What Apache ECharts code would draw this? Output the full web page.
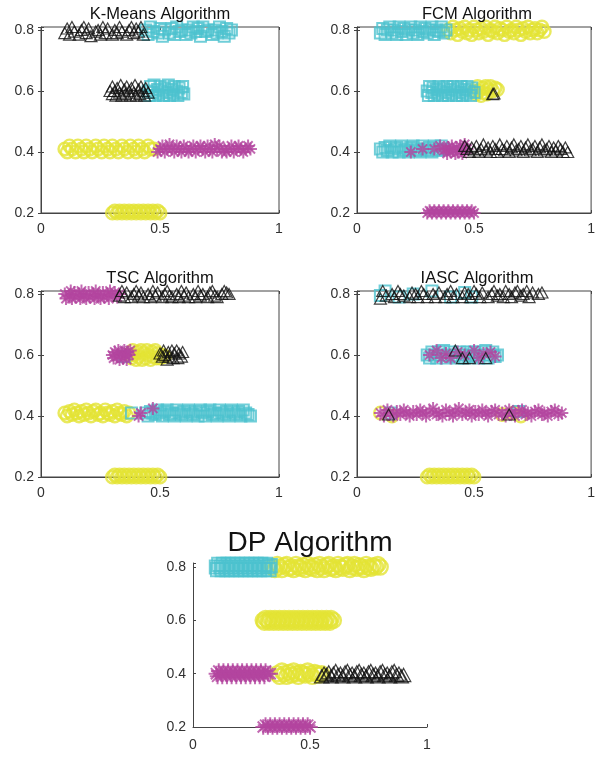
<!DOCTYPE html>
<html><head><meta charset="utf-8">
<script src="https://cdn.jsdelivr.net/npm/echarts@6/dist/echarts.min.js"></script>
<style>html,body{margin:0;padding:0;background:#fff}#c{width:598px;height:758px}</style>
</head><body><div id="c"></div>
<script>
const titles = ['K-Means Algorithm','FCM Algorithm','TSC Algorithm','IASC Algorithm','DP Algorithm'];
const xTickLabels = [0, 0.5, 1];
const yTickLabels = [0.2, 0.4, 0.6, 0.8];

// ---------- K-Means ----------
const kmYellow = [
[0.10,0.41],[0.11,0.40],[0.12,0.42],[0.13,0.41],[0.145,0.40],[0.155,0.42],[0.17,0.41],[0.18,0.40],[0.19,0.42],[0.205,0.41],[0.215,0.40],[0.23,0.42],[0.24,0.41],[0.255,0.40],[0.265,0.42],[0.28,0.41],[0.29,0.40],[0.30,0.42],[0.315,0.41],[0.325,0.40],[0.34,0.42],[0.35,0.41],[0.365,0.40],[0.375,0.42],[0.39,0.41],[0.40,0.40],[0.41,0.42],[0.425,0.41],[0.435,0.40],[0.45,0.42],[0.46,0.41],[0.475,0.41],
[0.30,0.20],[0.305,0.193],[0.31,0.207],[0.32,0.20],[0.325,0.193],[0.33,0.207],[0.34,0.20],[0.345,0.193],[0.35,0.207],[0.36,0.20],[0.365,0.193],[0.37,0.207],[0.38,0.20],[0.385,0.193],[0.39,0.207],[0.40,0.20],[0.405,0.193],[0.41,0.207],[0.42,0.20],[0.425,0.193],[0.43,0.207],[0.44,0.20],[0.445,0.193],[0.45,0.207],[0.46,0.20],[0.465,0.193],[0.47,0.207],[0.48,0.20],[0.485,0.193],[0.49,0.207],[0.50,0.20]];
const kmCyan = [
[0.44,0.80],[0.45,0.785],[0.46,0.81],[0.47,0.795],[0.48,0.815],[0.49,0.79],[0.50,0.805],[0.51,0.78],[0.52,0.80],[0.53,0.815],[0.54,0.79],[0.55,0.805],[0.56,0.785],[0.57,0.81],[0.58,0.795],[0.59,0.80],[0.60,0.815],[0.61,0.785],[0.62,0.80],[0.63,0.79],[0.64,0.81],[0.65,0.795],[0.66,0.805],[0.67,0.78],[0.68,0.81],[0.69,0.795],[0.70,0.80],[0.71,0.815],[0.72,0.785],[0.73,0.80],[0.74,0.79],[0.75,0.81],[0.76,0.795],[0.77,0.78],[0.78,0.805],[0.79,0.79],[0.80,0.80],
[0.45,0.60],[0.455,0.585],[0.46,0.615],[0.47,0.595],[0.475,0.62],[0.48,0.585],[0.49,0.605],[0.495,0.59],[0.50,0.615],[0.51,0.60],[0.515,0.585],[0.52,0.61],[0.53,0.595],[0.535,0.62],[0.54,0.585],[0.55,0.605],[0.555,0.59],[0.56,0.615],[0.57,0.60],[0.575,0.585],[0.58,0.61],[0.59,0.595],[0.595,0.615],[0.60,0.59]];
const kmMagenta = [
[0.49,0.40],[0.50,0.41],[0.51,0.42],[0.52,0.40],[0.53,0.41],[0.54,0.425],[0.55,0.41],[0.56,0.40],[0.57,0.42],[0.58,0.41],[0.59,0.40],[0.60,0.42],[0.61,0.41],[0.62,0.40],[0.63,0.41],[0.64,0.42],[0.65,0.40],[0.66,0.41],[0.67,0.42],[0.68,0.41],[0.69,0.40],[0.70,0.42],[0.71,0.41],[0.72,0.40],[0.73,0.425],[0.74,0.41],[0.75,0.42],[0.76,0.40],[0.77,0.41],[0.78,0.40],[0.79,0.41],[0.80,0.42],[0.81,0.40],[0.82,0.41],[0.83,0.42],[0.84,0.41],[0.85,0.40],[0.86,0.41],[0.87,0.42],[0.88,0.41]];
const kmBlack = [
[0.10,0.79],[0.11,0.805],[0.12,0.785],[0.13,0.81],[0.14,0.795],[0.15,0.815],[0.16,0.785],[0.17,0.80],[0.18,0.81],[0.19,0.79],[0.20,0.805],[0.21,0.78],[0.22,0.815],[0.23,0.795],[0.24,0.80],[0.25,0.785],[0.26,0.81],[0.27,0.79],[0.28,0.805],[0.29,0.815],[0.30,0.785],[0.31,0.80],[0.32,0.79],[0.33,0.81],[0.34,0.795],[0.35,0.815],[0.36,0.785],[0.37,0.80],[0.38,0.81],[0.39,0.79],[0.40,0.805],[0.41,0.795],[0.42,0.81],[0.43,0.785],
[0.29,0.60],[0.30,0.59],[0.30,0.615],[0.31,0.60],[0.315,0.585],[0.32,0.61],[0.33,0.595],[0.335,0.62],[0.34,0.585],[0.35,0.605],[0.355,0.59],[0.36,0.615],[0.37,0.60],[0.375,0.585],[0.38,0.61],[0.39,0.595],[0.395,0.62],[0.40,0.585],[0.41,0.605],[0.415,0.59],[0.42,0.615],[0.43,0.60],[0.435,0.585],[0.44,0.61],[0.45,0.595]];

// ---------- FCM ----------
const fcmYellow = [
[0.39,0.80],[0.40,0.79],[0.41,0.81],[0.42,0.80],[0.43,0.785],[0.44,0.805],[0.45,0.795],[0.46,0.81],[0.47,0.79],[0.48,0.80],[0.49,0.785],[0.50,0.81],[0.51,0.80],[0.52,0.79],[0.53,0.805],[0.54,0.795],[0.55,0.81],[0.56,0.785],[0.57,0.80],[0.58,0.795],[0.59,0.81],[0.60,0.79],[0.61,0.805],[0.62,0.80],[0.63,0.785],[0.64,0.81],[0.65,0.795],[0.66,0.80],[0.67,0.79],[0.68,0.81],[0.69,0.80],[0.70,0.785],[0.71,0.805],[0.72,0.795],[0.73,0.81],[0.74,0.79],[0.75,0.80],[0.76,0.805],[0.77,0.79],[0.78,0.80],[0.79,0.81],[0.80,0.795],
[0.50,0.60],[0.51,0.59],[0.515,0.615],[0.52,0.60],[0.53,0.585],[0.535,0.61],[0.54,0.595],[0.55,0.615],[0.555,0.59],[0.56,0.605],[0.57,0.615],[0.58,0.60],[0.59,0.61],[0.60,0.605]];
const fcmCyan = [
[0.10,0.79],[0.11,0.805],[0.12,0.785],[0.13,0.80],[0.14,0.81],[0.15,0.79],[0.16,0.80],[0.17,0.785],[0.18,0.81],[0.19,0.795],[0.20,0.805],[0.21,0.785],[0.22,0.80],[0.23,0.81],[0.24,0.79],[0.25,0.80],[0.26,0.785],[0.27,0.81],[0.28,0.795],[0.29,0.805],[0.30,0.79],[0.31,0.80],[0.32,0.81],[0.33,0.785],[0.34,0.80],[0.35,0.795],[0.36,0.81],[0.37,0.79],[0.38,0.80],
[0.30,0.60],[0.305,0.585],[0.31,0.615],[0.32,0.595],[0.325,0.61],[0.33,0.585],[0.34,0.605],[0.345,0.59],[0.35,0.615],[0.36,0.60],[0.365,0.585],[0.37,0.61],[0.38,0.595],[0.385,0.615],[0.39,0.585],[0.40,0.605],[0.405,0.59],[0.41,0.615],[0.42,0.60],[0.425,0.585],[0.43,0.61],[0.44,0.595],[0.445,0.615],[0.45,0.585],[0.46,0.605],[0.465,0.59],[0.47,0.615],[0.48,0.60],[0.485,0.585],[0.49,0.61],[0.50,0.595],
[0.10,0.41],[0.11,0.40],[0.12,0.415],[0.13,0.405],[0.14,0.42],[0.15,0.40],[0.16,0.41],[0.17,0.415],[0.18,0.40],[0.19,0.42],[0.20,0.405],[0.21,0.41],[0.22,0.40],[0.23,0.415],[0.24,0.42],[0.25,0.405],[0.26,0.41],[0.27,0.40],[0.28,0.42],[0.29,0.41],[0.30,0.405],[0.31,0.415],[0.32,0.40],[0.33,0.42],[0.34,0.41],[0.35,0.405],[0.36,0.42],[0.37,0.41]];
const fcmMagenta = [
[0.23,0.40],[0.28,0.41],[0.33,0.41],[0.355,0.42],[0.37,0.405],[0.38,0.41],[0.385,0.395],[0.39,0.415],[0.40,0.40],[0.405,0.42],[0.41,0.405],[0.42,0.395],[0.425,0.415],[0.43,0.40],[0.44,0.42],[0.445,0.405],[0.45,0.395],[0.455,0.415],[0.46,0.425],[0.47,0.41],
[0.30,0.20],[0.305,0.193],[0.31,0.207],[0.32,0.20],[0.325,0.193],[0.33,0.207],[0.34,0.20],[0.345,0.193],[0.35,0.207],[0.36,0.20],[0.365,0.193],[0.37,0.207],[0.38,0.20],[0.385,0.193],[0.39,0.207],[0.40,0.20],[0.405,0.193],[0.41,0.207],[0.42,0.20],[0.425,0.193],[0.43,0.207],[0.44,0.20],[0.445,0.193],[0.45,0.207],[0.46,0.20],[0.465,0.193],[0.47,0.207],[0.48,0.20],[0.485,0.193],[0.49,0.207],[0.50,0.20]];
const fcmBlack = [
[0.58,0.59],[0.585,0.592],
[0.46,0.42],[0.47,0.41],[0.48,0.40],[0.49,0.415],[0.50,0.405],[0.51,0.42],[0.52,0.40],[0.53,0.41],[0.54,0.425],[0.55,0.405],[0.56,0.415],[0.57,0.40],[0.58,0.42],[0.59,0.41],[0.60,0.40],[0.61,0.425],[0.62,0.41],[0.63,0.405],[0.64,0.42],[0.65,0.40],[0.66,0.415],[0.67,0.425],[0.68,0.405],[0.69,0.41],[0.70,0.42],[0.71,0.40],[0.72,0.415],[0.73,0.425],[0.74,0.405],[0.75,0.41],[0.76,0.42],[0.77,0.40],[0.78,0.415],[0.79,0.425],[0.80,0.405],[0.81,0.41],[0.82,0.42],[0.83,0.40],[0.84,0.415],[0.85,0.405],[0.86,0.42],[0.87,0.41],[0.88,0.40],[0.89,0.415],[0.90,0.40]];

// ---------- TSC ----------
const tscYellow = [
[0.37,0.60],[0.38,0.59],[0.385,0.615],[0.39,0.60],[0.40,0.585],[0.405,0.61],[0.41,0.595],[0.42,0.615],[0.425,0.585],[0.43,0.605],[0.44,0.59],[0.445,0.615],[0.45,0.60],[0.46,0.585],[0.465,0.61],[0.47,0.595],[0.48,0.615],[0.485,0.59],[0.49,0.605],[0.50,0.59],[0.51,0.60],[0.52,0.595],
[0.10,0.41],[0.11,0.40],[0.12,0.415],[0.13,0.405],[0.14,0.42],[0.15,0.41],[0.16,0.40],[0.17,0.415],[0.18,0.405],[0.19,0.42],[0.20,0.41],[0.21,0.40],[0.22,0.415],[0.23,0.42],[0.24,0.405],[0.25,0.41],[0.26,0.40],[0.27,0.42],[0.28,0.41],[0.29,0.405],[0.30,0.415],[0.31,0.40],[0.32,0.42],[0.33,0.41],[0.34,0.405],[0.35,0.415],[0.36,0.40],[0.37,0.41],
[0.30,0.20],[0.305,0.193],[0.31,0.207],[0.32,0.20],[0.325,0.193],[0.33,0.207],[0.34,0.20],[0.345,0.193],[0.35,0.207],[0.36,0.20],[0.365,0.193],[0.37,0.207],[0.38,0.20],[0.385,0.193],[0.39,0.207],[0.40,0.20],[0.405,0.193],[0.41,0.207],[0.42,0.20],[0.425,0.193],[0.43,0.207],[0.44,0.20],[0.445,0.193],[0.45,0.207],[0.46,0.20],[0.465,0.193],[0.47,0.207],[0.48,0.20],[0.485,0.193],[0.49,0.207],[0.50,0.20]];
const tscCyan = [
[0.35,0.595],[0.38,0.41],
[0.44,0.41],[0.45,0.40],[0.46,0.415],[0.47,0.41],[0.48,0.405],[0.49,0.42],[0.50,0.41],[0.51,0.40],[0.52,0.415],[0.53,0.42],[0.54,0.405],[0.55,0.41],[0.56,0.40],[0.57,0.42],[0.58,0.41],[0.59,0.405],[0.60,0.415],[0.61,0.40],[0.62,0.42],[0.63,0.41],[0.64,0.405],[0.65,0.415],[0.66,0.40],[0.67,0.42],[0.68,0.41],[0.69,0.40],[0.70,0.415],[0.71,0.42],[0.72,0.405],[0.73,0.41],[0.74,0.40],[0.75,0.42],[0.76,0.41],[0.77,0.405],[0.78,0.415],[0.79,0.40],[0.80,0.42],[0.81,0.41],[0.82,0.405],[0.83,0.415],[0.84,0.40],[0.85,0.42],[0.86,0.41],[0.87,0.405],[0.88,0.40]];
const tscMagenta = [
[0.10,0.80],[0.105,0.785],[0.11,0.815],[0.12,0.795],[0.125,0.81],[0.13,0.785],[0.14,0.805],[0.145,0.79],[0.15,0.815],[0.16,0.80],[0.165,0.785],[0.17,0.81],[0.18,0.795],[0.185,0.815],[0.19,0.785],[0.20,0.805],[0.205,0.79],[0.21,0.815],[0.22,0.80],[0.225,0.785],[0.23,0.81],[0.24,0.795],[0.245,0.815],[0.25,0.785],[0.26,0.805],[0.265,0.79],[0.27,0.815],[0.28,0.80],[0.285,0.785],[0.29,0.81],[0.30,0.795],[0.31,0.805],[0.32,0.79],[0.33,0.80],
[0.30,0.60],[0.305,0.59],[0.31,0.61],[0.32,0.595],[0.325,0.615],[0.33,0.585],[0.34,0.605],[0.345,0.59],[0.35,0.615],[0.355,0.60],[0.36,0.585],[0.365,0.61],[0.37,0.60],[0.375,0.615],
[0.41,0.40],[0.42,0.41],[0.47,0.425]];
const tscBlack = [
[0.33,0.795],[0.34,0.81],[0.35,0.79],[0.36,0.805],[0.37,0.815],[0.38,0.79],[0.39,0.80],[0.40,0.81],[0.41,0.795],[0.42,0.805],[0.43,0.79],[0.44,0.815],[0.45,0.80],[0.46,0.79],[0.47,0.81],[0.48,0.795],[0.49,0.805],[0.50,0.815],[0.51,0.79],[0.52,0.80],[0.53,0.81],[0.54,0.795],[0.55,0.79],[0.56,0.815],[0.57,0.80],[0.58,0.79],[0.59,0.81],[0.60,0.795],[0.61,0.805],[0.62,0.79],[0.63,0.815],[0.64,0.80],[0.65,0.79],[0.66,0.81],[0.67,0.795],[0.68,0.80],[0.69,0.815],[0.70,0.79],[0.71,0.805],[0.72,0.81],[0.73,0.795],[0.74,0.79],[0.75,0.815],[0.76,0.80],[0.77,0.81],[0.78,0.805],[0.79,0.80],
[0.50,0.605],[0.51,0.595],[0.515,0.615],[0.52,0.60],[0.53,0.585],[0.535,0.61],[0.54,0.595],[0.55,0.615],[0.555,0.59],[0.56,0.605],[0.57,0.615],[0.575,0.59],[0.58,0.605],[0.59,0.595],[0.595,0.61]];

// ---------- IASC ----------
const iascYellow = [
[0.10,0.41],[0.15,0.40],[0.62,0.405],[0.67,0.41],[0.70,0.40],
[0.30,0.20],[0.305,0.193],[0.31,0.207],[0.32,0.20],[0.325,0.193],[0.33,0.207],[0.34,0.20],[0.345,0.193],[0.35,0.207],[0.36,0.20],[0.365,0.193],[0.37,0.207],[0.38,0.20],[0.385,0.193],[0.39,0.207],[0.40,0.20],[0.405,0.193],[0.41,0.207],[0.42,0.20],[0.425,0.193],[0.43,0.207],[0.44,0.20],[0.445,0.193],[0.45,0.207],[0.46,0.20],[0.465,0.193],[0.47,0.207],[0.48,0.20],[0.485,0.193],[0.49,0.207],[0.50,0.20]];
const iascCyan = [
[0.10,0.795],[0.12,0.81],[0.18,0.79],[0.24,0.80],[0.32,0.81],[0.40,0.79],[0.46,0.805],[0.49,0.79],
[0.30,0.60],[0.31,0.59],[0.32,0.61],[0.33,0.60],[0.34,0.59],[0.35,0.61],[0.36,0.60],[0.37,0.615],[0.38,0.59],[0.39,0.60],[0.40,0.61],[0.41,0.595],[0.42,0.60],[0.43,0.59],[0.44,0.61],[0.45,0.60],[0.46,0.59],[0.47,0.61],[0.48,0.60],[0.49,0.595],[0.50,0.61],[0.51,0.60],[0.52,0.59],[0.53,0.61],[0.54,0.60],[0.55,0.615],[0.56,0.59],[0.57,0.60],[0.58,0.61],[0.59,0.595],[0.60,0.60],
[0.145,0.41],[0.69,0.415]];
const iascMagenta = [
[0.31,0.60],[0.34,0.615],[0.36,0.59],[0.38,0.605],[0.40,0.59],[0.43,0.61],[0.46,0.60],[0.50,0.615],[0.52,0.59],[0.54,0.605],[0.57,0.61],[0.59,0.595],
[0.10,0.41],[0.115,0.40],[0.13,0.42],[0.14,0.41],[0.155,0.40],[0.17,0.415],[0.185,0.405],[0.20,0.42],[0.21,0.41],[0.225,0.40],[0.24,0.415],[0.255,0.405],[0.27,0.42],[0.28,0.41],[0.295,0.40],[0.31,0.415],[0.325,0.425],[0.34,0.405],[0.35,0.41],[0.365,0.40],[0.38,0.42],[0.395,0.41],[0.41,0.40],[0.42,0.415],[0.435,0.425],[0.45,0.405],[0.465,0.41],[0.48,0.42],[0.49,0.40],[0.505,0.415],[0.52,0.405],[0.535,0.42],[0.55,0.41],[0.56,0.40],[0.575,0.415],[0.59,0.42],[0.605,0.405],[0.62,0.41],[0.635,0.40],[0.65,0.42],[0.66,0.41],[0.675,0.40],[0.69,0.415],[0.705,0.42],[0.72,0.405],[0.73,0.41],[0.745,0.40],[0.76,0.415],[0.775,0.42],[0.79,0.405],[0.80,0.41],[0.815,0.40],[0.83,0.415],[0.845,0.42],[0.86,0.405],[0.875,0.41],
[0.405,0.195]];
const iascBlack = [
[0.10,0.785],[0.11,0.81],[0.125,0.795],[0.135,0.815],[0.15,0.80],[0.16,0.79],[0.175,0.81],[0.185,0.80],[0.20,0.795],[0.21,0.815],[0.225,0.79],[0.235,0.805],[0.25,0.80],[0.26,0.79],[0.275,0.81],[0.285,0.80],[0.30,0.79],[0.31,0.815],[0.325,0.80],[0.335,0.79],[0.35,0.805],[0.36,0.815],[0.375,0.79],[0.385,0.80],[0.40,0.81],[0.41,0.79],[0.425,0.80],[0.435,0.815],[0.45,0.79],[0.46,0.805],[0.475,0.80],[0.485,0.79],[0.50,0.81],[0.51,0.80],[0.525,0.79],[0.535,0.805],[0.55,0.815],[0.56,0.79],[0.575,0.80],[0.585,0.81],[0.60,0.795],[0.61,0.80],[0.625,0.79],[0.635,0.81],[0.65,0.80],[0.66,0.79],[0.675,0.805],[0.685,0.81],[0.70,0.795],[0.71,0.80],[0.725,0.81],[0.735,0.79],[0.75,0.805],[0.76,0.815],[0.775,0.80],[0.79,0.805],
[0.42,0.615],[0.45,0.59],[0.48,0.59],[0.55,0.59],
[0.135,0.405],[0.65,0.405]];

// ---------- DP ----------
const dpYellow = [
[0.34,0.80],[0.35,0.79],[0.36,0.81],[0.37,0.80],[0.38,0.79],[0.39,0.805],[0.40,0.81],[0.41,0.795],[0.42,0.80],[0.43,0.79],[0.44,0.81],[0.45,0.80],[0.46,0.795],[0.47,0.805],[0.48,0.79],[0.49,0.81],[0.50,0.80],[0.51,0.795],[0.52,0.805],[0.53,0.79],[0.54,0.81],[0.55,0.80],[0.56,0.79],[0.57,0.805],[0.58,0.81],[0.59,0.795],[0.60,0.80],[0.61,0.79],[0.62,0.81],[0.63,0.80],[0.64,0.795],[0.65,0.805],[0.66,0.81],[0.67,0.79],[0.68,0.80],[0.69,0.81],[0.70,0.795],[0.71,0.805],[0.72,0.80],[0.73,0.79],[0.74,0.81],[0.75,0.80],[0.76,0.795],[0.77,0.805],[0.78,0.80],[0.79,0.81],[0.80,0.80],
[0.30,0.60],[0.305,0.593],[0.31,0.607],[0.32,0.60],[0.325,0.593],[0.33,0.607],[0.34,0.60],[0.345,0.593],[0.35,0.607],[0.36,0.60],[0.365,0.593],[0.37,0.607],[0.38,0.60],[0.385,0.593],[0.39,0.607],[0.40,0.60],[0.405,0.593],[0.41,0.607],[0.42,0.60],[0.425,0.593],[0.43,0.607],[0.44,0.60],[0.445,0.593],[0.45,0.607],[0.46,0.60],[0.465,0.593],[0.47,0.607],[0.48,0.60],[0.485,0.593],[0.49,0.607],[0.50,0.60],[0.505,0.593],[0.51,0.607],[0.52,0.60],[0.525,0.593],[0.53,0.607],[0.54,0.60],[0.545,0.593],[0.55,0.607],[0.56,0.60],[0.565,0.593],[0.57,0.607],[0.58,0.60],[0.585,0.593],[0.59,0.607],[0.60,0.60],
[0.36,0.40],[0.37,0.39],[0.38,0.41],[0.39,0.40],[0.40,0.39],[0.41,0.405],[0.42,0.395],[0.43,0.41],[0.44,0.40],[0.45,0.39],[0.46,0.405],[0.47,0.40],[0.48,0.395],[0.49,0.41],[0.50,0.40],[0.51,0.39],[0.52,0.405],[0.53,0.40],[0.54,0.395],[0.55,0.40]];
const dpCyan = [
[0.10,0.80],[0.105,0.79],[0.11,0.81],[0.12,0.80],[0.125,0.79],[0.13,0.81],[0.14,0.80],[0.145,0.79],[0.15,0.81],[0.16,0.80],[0.165,0.79],[0.17,0.81],[0.18,0.80],[0.185,0.79],[0.19,0.81],[0.20,0.80],[0.205,0.79],[0.21,0.81],[0.22,0.80],[0.225,0.79],[0.23,0.81],[0.24,0.80],[0.245,0.79],[0.25,0.81],[0.26,0.80],[0.265,0.79],[0.27,0.81],[0.28,0.80],[0.285,0.79],[0.29,0.81],[0.30,0.80],[0.305,0.79],[0.31,0.81],[0.32,0.80],[0.325,0.79],[0.33,0.805]];
const dpMagenta = [
[0.10,0.40],[0.105,0.39],[0.11,0.41],[0.12,0.40],[0.125,0.39],[0.13,0.41],[0.14,0.40],[0.145,0.39],[0.15,0.41],[0.16,0.40],[0.165,0.39],[0.17,0.41],[0.18,0.40],[0.185,0.39],[0.19,0.41],[0.20,0.40],[0.205,0.39],[0.21,0.41],[0.22,0.40],[0.225,0.39],[0.23,0.41],[0.24,0.40],[0.245,0.39],[0.25,0.41],[0.26,0.40],[0.265,0.39],[0.27,0.41],[0.28,0.40],[0.285,0.39],[0.29,0.41],[0.30,0.40],[0.305,0.39],[0.31,0.41],[0.32,0.40],[0.33,0.40],
[0.30,0.20],[0.305,0.193],[0.31,0.207],[0.32,0.20],[0.325,0.193],[0.33,0.207],[0.34,0.20],[0.345,0.193],[0.35,0.207],[0.36,0.20],[0.365,0.193],[0.37,0.207],[0.38,0.20],[0.385,0.193],[0.39,0.207],[0.40,0.20],[0.405,0.193],[0.41,0.207],[0.42,0.20],[0.425,0.193],[0.43,0.207],[0.44,0.20],[0.445,0.193],[0.45,0.207],[0.46,0.20],[0.465,0.193],[0.47,0.207],[0.48,0.20],[0.485,0.193],[0.49,0.207],[0.50,0.20]];
const dpBlack = [
[0.55,0.39],[0.56,0.40],[0.57,0.395],[0.58,0.405],[0.59,0.39],[0.60,0.40],[0.61,0.41],[0.62,0.395],[0.63,0.40],[0.64,0.39],[0.65,0.405],[0.66,0.41],[0.67,0.395],[0.68,0.40],[0.69,0.39],[0.70,0.405],[0.71,0.41],[0.72,0.395],[0.73,0.40],[0.74,0.39],[0.75,0.405],[0.76,0.41],[0.77,0.395],[0.78,0.40],[0.79,0.39],[0.80,0.405],[0.81,0.41],[0.82,0.395],[0.83,0.40],[0.84,0.39],[0.85,0.405],[0.86,0.41],[0.87,0.395],[0.88,0.40],[0.89,0.39],[0.90,0.395]];

const panels = [
  {y:kmYellow, c:kmCyan, m:kmMagenta, k:kmBlack},
  {y:fcmYellow, c:fcmCyan, m:fcmMagenta, k:fcmBlack},
  {y:tscYellow, c:tscCyan, m:tscMagenta, k:tscBlack},
  {y:iascYellow, c:iascCyan, m:iascMagenta, k:iascBlack},
  {y:dpYellow, c:dpCyan, m:dpMagenta, k:dpBlack}
];

const COL = {y:'#e4e334', m:'#b3459f', c:'#4cc2ce', k:'#111111'};
const STAR = 'path://M5,0L5,10M0,5L10,5M1.46,1.46L8.54,8.54M1.46,8.54L8.54,1.46';
const AX = '#444444';
const FONT = '"Liberation Sans", Arial, Helvetica, sans-serif';

const grids = [
  {left:41, top:27, width:238, height:186, box:true, ymax:0.81, s:1},
  {left:357, top:27, width:240, height:186, box:true, ymax:0.81, s:1},
  {left:41, top:291, width:238, height:186, box:true, ymax:0.81, s:1},
  {left:357, top:291, width:240, height:186, box:true, ymax:0.81, s:1},
  {left:193, top:563, width:234, height:164, box:false, ymax:0.815, s:1.2}
];
const titlePos = [[160,14,16.5],[477,14,16.5],[160,278,16.5],[477,278,16.5],[310,543,28]];

const gridOpt = [], xAxes = [], yAxes = [], series = [], graphic = [];
function fmt(list){ return v => { const r = Math.round(v*10)/10; return (list.indexOf(r) >= 0 && Math.abs(v-r) < 1e-6) ? String(r) : ''; }; }
grids.forEach((g,i) => {
  gridOpt.push({left:g.left, top:g.top, width:g.width, height:g.height, show:g.box, borderColor:AX, borderWidth:1, backgroundColor:'transparent'});
  const isDP = i === 4;
  xAxes.push({type:'value', gridIndex:i, min:0, max:1, interval:0.5,
    axisLine:{show:true, onZero:false, lineStyle:{color:AX, width:1}},
    axisTick:{show:true, inside:true, length:3, lineStyle:{color:AX}},
    splitLine:{show:false},
    axisLabel:{margin: isDP?11:9, fontSize:14, color:'#303030', fontFamily:FONT, formatter:fmt(xTickLabels)}});
  yAxes.push({type:'value', gridIndex:i, min:0.2, max:g.ymax, interval:0.2,
    axisLine:{show:true, onZero:false, lineStyle:{color:AX, width:1}},
    axisTick:{show:true, inside:true, length:3, lineStyle:{color:AX}},
    splitLine:{show:false},
    axisLabel:{margin:7, fontSize:14, color:'#303030', fontFamily:FONT, formatter:fmt(yTickLabels)}});
});
grids.forEach((g,i) => {
  if (!g.box) return;
  xAxes.push({type:'value', gridIndex:i, position:'top', min:0, max:1, interval:0.5,
    axisLine:{show:false}, axisTick:{show:true, inside:true, length:3, lineStyle:{color:AX}}, axisLabel:{show:false}, splitLine:{show:false}});
  yAxes.push({type:'value', gridIndex:i, position:'right', min:0.2, max:g.ymax, interval:0.2,
    axisLine:{show:false}, axisTick:{show:true, inside:true, length:3, lineStyle:{color:AX}}, axisLabel:{show:false}, splitLine:{show:false}});
});

panels.forEach((p,i) => {
  const s = grids[i].s;
  const base = {type:'scatter', xAxisIndex:i, yAxisIndex:i, silent:true, animation:false};
  series.push(Object.assign({}, base, {name:'y'+i, data:p.y, symbol:'circle', symbolSize:12.5*s,
    itemStyle:{color:'rgba(0,0,0,0)', borderColor:COL.y, borderWidth:2.4}}));
  series.push(Object.assign({}, base, {name:'c'+i, data:p.c, symbol:'rect', symbolSize:11*s,
    itemStyle:{color:'rgba(0,0,0,0)', borderColor:COL.c, borderWidth:2}}));
  series.push(Object.assign({}, base, {name:'m'+i, data:p.m, symbol:STAR, symbolSize:13*s,
    itemStyle:{color:'rgba(0,0,0,0)', borderColor:COL.m, borderWidth:2}}));
  series.push(Object.assign({}, base, {name:'k'+i, data:p.k, symbol:'triangle', symbolSize:[12*s,11*s],
    itemStyle:{color:'rgba(0,0,0,0)', borderColor:COL.k, borderWidth:1.2}}));
});

titles.forEach((t,i) => {
  const [x,y,fs] = titlePos[i];
  graphic.push({type:'text', x:x, y:y, z:100, silent:true,
    style:{text:t, fontSize:fs, fontFamily:FONT, fill:'#111', textAlign:'center', textVerticalAlign:'middle'}});
});

const chart = echarts.init(document.getElementById('c'), null, {renderer:'canvas'});
chart.setOption({animation:false, backgroundColor:'#fff', grid:gridOpt, xAxis:xAxes, yAxis:yAxes, series:series, graphic:graphic});
</script></body></html>
